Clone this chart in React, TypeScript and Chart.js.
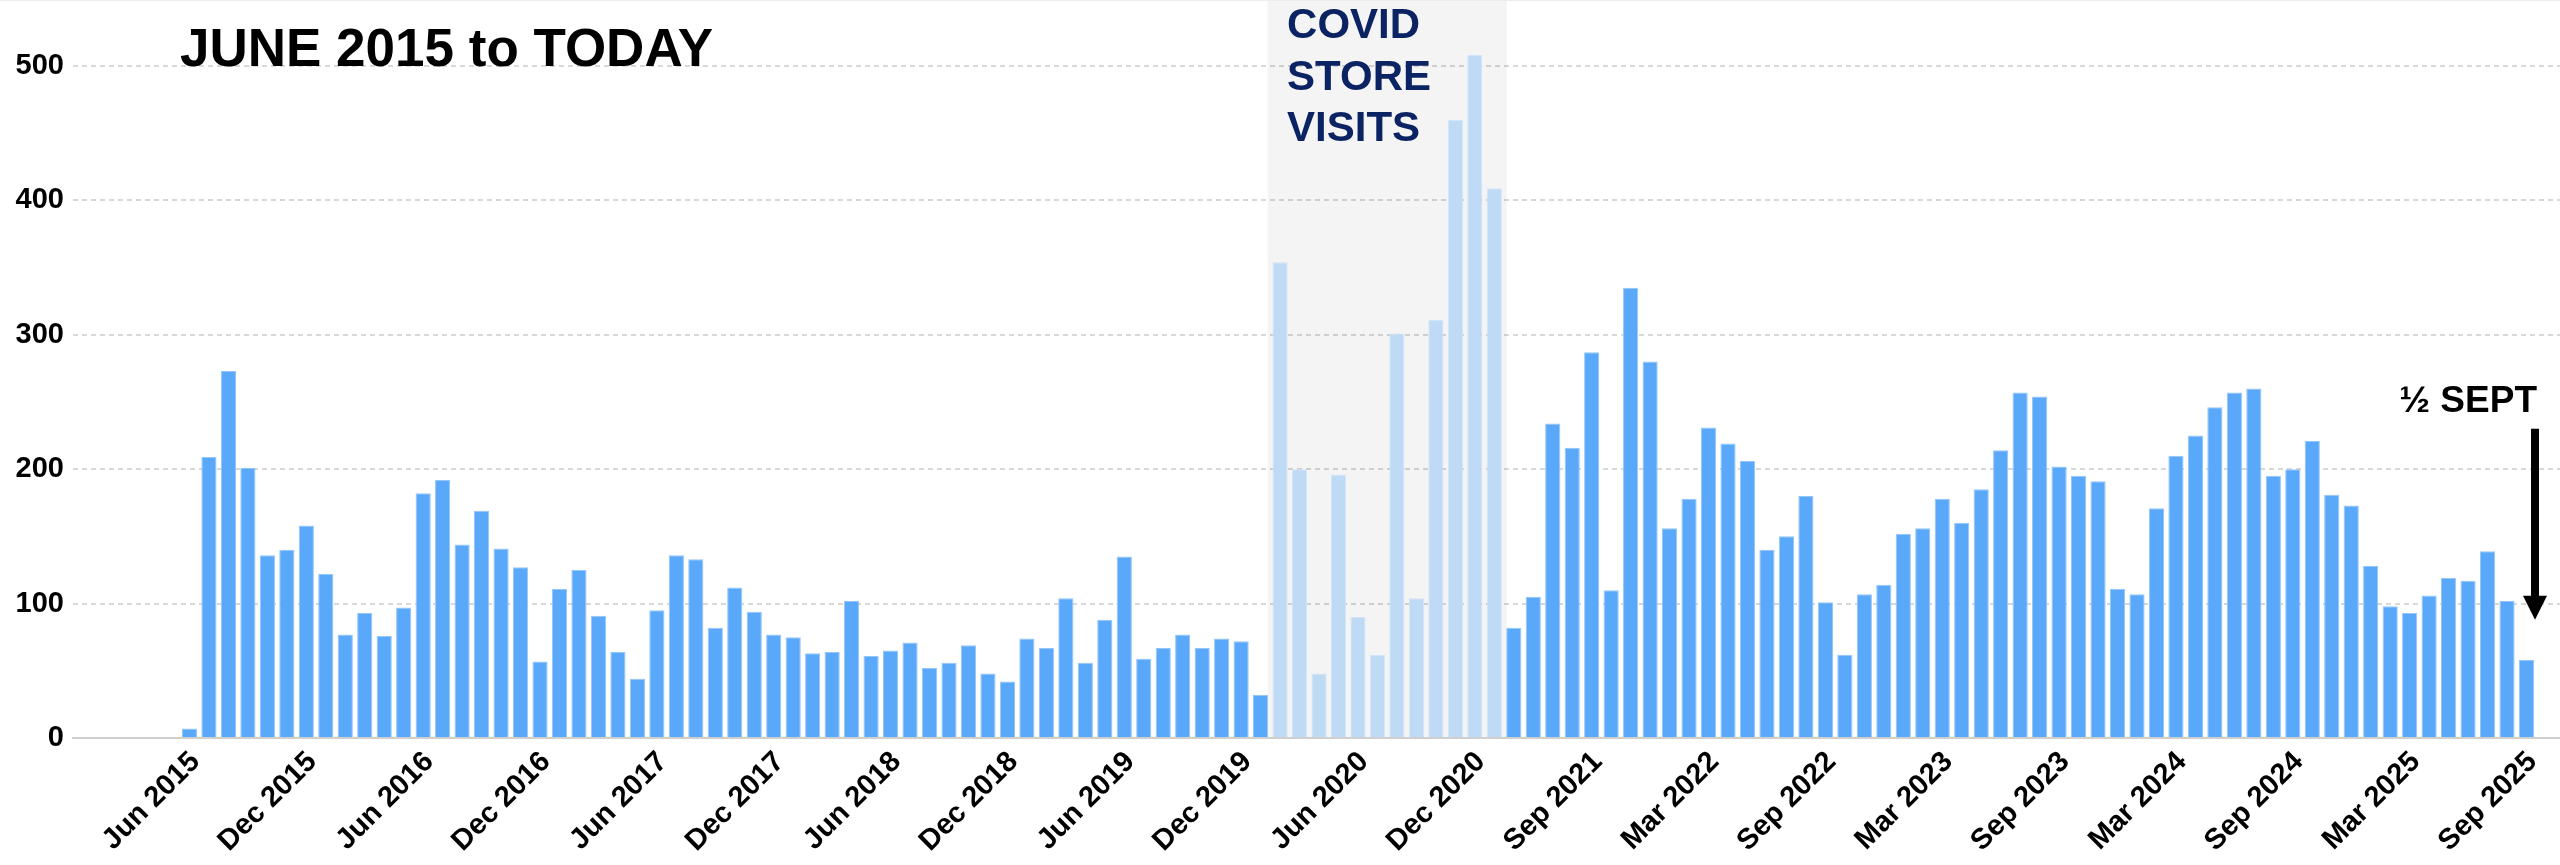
import React, { useEffect, useRef } from "react";
import { Chart, registerables } from "chart.js";

Chart.register(...registerables);

// ---------- DATA ----------
const preCovidMonths = [
  "Jun 2015", "Jul 2015", "Aug 2015", "Sep 2015", "Oct 2015", "Nov 2015", "Dec 2015",
  "Jan 2016", "Feb 2016", "Mar 2016", "Apr 2016", "May 2016", "Jun 2016", "Jul 2016", "Aug 2016", "Sep 2016", "Oct 2016", "Nov 2016", "Dec 2016",
  "Jan 2017", "Feb 2017", "Mar 2017", "Apr 2017", "May 2017", "Jun 2017", "Jul 2017", "Aug 2017", "Sep 2017", "Oct 2017", "Nov 2017", "Dec 2017",
  "Jan 2018", "Feb 2018", "Mar 2018", "Apr 2018", "May 2018", "Jun 2018", "Jul 2018", "Aug 2018", "Sep 2018", "Oct 2018", "Nov 2018", "Dec 2018",
  "Jan 2019", "Feb 2019", "Mar 2019", "Apr 2019", "May 2019", "Jun 2019", "Jul 2019", "Aug 2019", "Sep 2019", "Oct 2019", "Nov 2019", "Dec 2019",
  "Jan 2020",
];
const preCovidVisits = [
  7, 209, 273, 201, 136, 140, 158,
  122, 77, 93, 76, 97, 182, 192, 144, 169, 141, 127, 57,
  111, 125, 91, 64, 44, 95, 136, 133, 82, 112, 94, 77,
  75, 63, 64, 102, 61, 65, 71, 52, 56, 69, 48, 42,
  74, 67, 104, 56, 88, 135, 59, 67, 77, 67, 74, 72,
  32,
];

const covidMonths = [
  "Feb 2020", "Mar 2020", "Apr 2020", "May 2020", "Jun 2020", "Jul 2020",
  "Aug 2020", "Sep 2020", "Oct 2020", "Nov 2020", "Dec 2020", "Jan 2021",
];
const covidVisits = [354, 200, 48, 196, 90, 62, 301, 104, 311, 460, 508, 409];

const postCovidMonths = [
  "May 2021", "Jun 2021", "Jul 2021", "Aug 2021", "Sep 2021", "Oct 2021", "Nov 2021", "Dec 2021",
  "Jan 2022", "Feb 2022", "Mar 2022", "Apr 2022", "May 2022", "Jun 2022", "Jul 2022", "Aug 2022", "Sep 2022", "Oct 2022", "Nov 2022", "Dec 2022",
  "Jan 2023", "Feb 2023", "Mar 2023", "Apr 2023", "May 2023", "Jun 2023", "Jul 2023", "Aug 2023", "Sep 2023", "Oct 2023", "Nov 2023", "Dec 2023",
  "Jan 2024", "Feb 2024", "Mar 2024", "Apr 2024", "May 2024", "Jun 2024", "Jul 2024", "Aug 2024", "Sep 2024", "Oct 2024", "Nov 2024", "Dec 2024",
  "Jan 2025", "Feb 2025", "Mar 2025", "Apr 2025", "May 2025", "Jun 2025", "Jul 2025", "Aug 2025", "Sep 2025",
];
const postCovidVisits = [
  82, 105, 234, 216, 287, 110, 335, 280,
  156, 178, 231, 219, 206, 140, 150, 180, 101, 62, 107, 114,
  152, 156, 178, 160, 185, 214, 257, 254, 202, 195, 191, 111,
  107, 171, 210, 225, 246, 257, 260, 195, 200, 221, 181, 173,
  128, 98, 93, 106, 119, 117, 139, 102, 58,
];

const xTickLabels = [
  "Jun 2015", "Dec 2015", "Jun 2016", "Dec 2016", "Jun 2017", "Dec 2017",
  "Jun 2018", "Dec 2018", "Jun 2019", "Dec 2019", "Jun 2020", "Dec 2020",
  "Sep 2021", "Mar 2022", "Sep 2022", "Mar 2023", "Sep 2023", "Mar 2024",
  "Sep 2024", "Mar 2025", "Sep 2025",
];
const yTickValues = [0, 100, 200, 300, 400, 500];

const titleText = "JUNE 2015 to TODAY";
const covidNoteLines = ["COVID", "STORE", "VISITS"];
const halfSeptNote = "½ SEPT";

// ---------- derived tables ----------
const allMonths = [...preCovidMonths, ...covidMonths, ...postCovidMonths];
const allVisits = [...preCovidVisits, ...covidVisits, ...postCovidVisits];
const covidStart = preCovidMonths.length;
const covidEnd = covidStart + covidMonths.length - 1;
const isCovid = (i: number) => i >= covidStart && i <= covidEnd;

const FONT = "'Liberation Sans', Arial, Helvetica, sans-serif";

const annotationPlugin = {
  id: "annotations",
  beforeDatasetsDraw(chart: any) {
    const { ctx, chartArea, scales } = chart;
    const x = scales.x;
    const x1 = x.getPixelForValue(covidStart - 0.64);
    const x2 = x.getPixelForValue(covidEnd + 0.64);
    ctx.save();
    ctx.fillStyle = "rgba(0,0,0,0.045)";
    ctx.fillRect(x1, 0, x2 - x1, chartArea.bottom - 1);
    ctx.restore();
  },
  afterDraw(chart: any) {
    const { ctx, scales, width } = chart;
    const x = scales.x;
    const y = scales.y;
    ctx.save();
    // faint frame line at top
    ctx.fillStyle = "#ececec";
    ctx.fillRect(0, 0, width, 1);

    // title
    ctx.fillStyle = "#000";
    ctx.font = `bold 53px ${FONT}`;
    ctx.textAlign = "left";
    ctx.textBaseline = "alphabetic";
    ctx.fillText(titleText, 180, 66);

    // covid note
    ctx.fillStyle = "#0b2363";
    ctx.font = `bold 42px ${FONT}`;
    const cx = x.getPixelForValue(covidStart) + 7;
    covidNoteLines.forEach((line, i) => {
      ctx.fillText(line, cx, 38 + i * 51.5);
    });

    // half sept note + arrow
    const lastIdx = allMonths.length - 1;
    const ax = x.getPixelForValue(lastIdx) + 8.5;
    ctx.fillStyle = "#000";
    ctx.font = `bold 37px ${FONT}`;
    ctx.textAlign = "right";
    ctx.fillText(halfSeptNote, ax + 2, 412);

    const yTop = y.getPixelForValue(230);
    const yTip = y.getPixelForValue(88);
    ctx.strokeStyle = "#000";
    ctx.lineWidth = 8;
    ctx.beginPath();
    ctx.moveTo(ax, yTop);
    ctx.lineTo(ax, yTip - 20);
    ctx.stroke();
    ctx.beginPath();
    ctx.moveTo(ax - 12, yTip - 24);
    ctx.lineTo(ax + 12, yTip - 24);
    ctx.lineTo(ax, yTip);
    ctx.closePath();
    ctx.fill();
    ctx.restore();
  },
};

export default function App() {
  const ref = useRef<HTMLCanvasElement | null>(null);

  useEffect(() => {
    document.body.style.margin = "0";
    const canvas = ref.current;
    if (!canvas) return;

    const tickIndices = xTickLabels.map((l) => allMonths.indexOf(l));

    const chart = new Chart(canvas, {
      type: "bar",
      data: {
        datasets: [
          {
            label: "Store visits",
            data: allVisits.map((v, i) => ({ x: i, y: v })),
            backgroundColor: allVisits.map((_, i) => (isCovid(i) ? "#bfdaf4" : "#59a8fa")),
            borderColor: allVisits.map((_, i) => (isCovid(i) ? "#d2e5f8" : "#94c6fb")),
            borderWidth: 1,
            barPercentage: 0.78,
            categoryPercentage: 1,
          } as any,
        ],
      },
      plugins: [annotationPlugin],
      options: {
        responsive: false,
        animation: false,
        devicePixelRatio: 1,
        layout: { padding: 0 },
        plugins: {
          legend: { display: false },
          tooltip: { enabled: false },
          title: { display: false },
        },
        scales: {
          x: {
            type: "linear",
            offset: false,
            min: -5.98,
            max: allMonths.length - 1 + 1.72,
            grid: { display: false, drawTicks: false },
            border: { display: true, color: "#cfcfcf", width: 2 },
            afterBuildTicks: (axis: any) => {
              axis.ticks = tickIndices.map((v) => ({ value: v }));
            },
            afterFit: (axis: any) => {
              axis.height = 127;
              axis.paddingLeft = 0;
              axis.paddingRight = 0;
            },
            ticks: {
              autoSkip: false,
              maxRotation: 45,
              minRotation: 45,
              padding: 7,
              labelOffset: 6,
              color: "#000",
              font: { family: FONT, size: 29, weight: "bold" },
              callback: (value: any) => allMonths[Number(value)] ?? "",
            },
          },
          y: {
            min: 0,
            max: 549,
            afterBuildTicks: (axis: any) => {
              axis.ticks = yTickValues.map((v) => ({ value: v }));
            },
            afterFit: (axis: any) => {
              axis.width = 73;
              axis.paddingTop = 0;
              axis.paddingBottom = 0;
            },
            grid: {
              drawTicks: false,
              lineWidth: 2,
              color: (c: any) => (c.tick && c.tick.value === 0 ? "rgba(0,0,0,0)" : "#d8d8d8"),
            },
            border: { display: false, dash: [5, 4] },
            ticks: {
              padding: 9,
              color: "#000",
              font: { family: FONT, size: 29, weight: "bold" },
            },
          },
        },
      } as any,
    });

    return () => chart.destroy();
  }, []);

  return (
    <div style={{ width: 2560, height: 865, background: "#fff" }}>
      <canvas ref={ref} width={2560} height={865} style={{ display: "block" }} />
    </div>
  );
}
